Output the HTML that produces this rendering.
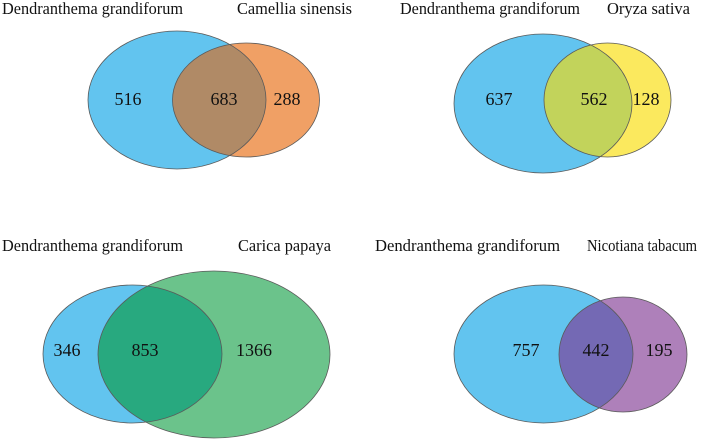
<!DOCTYPE html>
<html><head><meta charset="utf-8"><style>
html,body{margin:0;padding:0;background:#fff}
svg text{font-family:"Liberation Serif",serif;font-size:17px;fill:#111}
svg text.num{font-size:18px}
</style></head><body>
<svg id="chart" width="709" height="439" viewBox="0 0 709 439" xmlns="http://www.w3.org/2000/svg"></svg>
<script>
const speciesA = ["Dendranthema grandiforum","Dendranthema grandiforum","Dendranthema grandiforum","Dendranthema grandiforum"];
const speciesB = ["Camellia sinensis","Oryza sativa","Carica papaya","Nicotiana tabacum"];
const onlyA = [516, 637, 346, 757];
const shared = [683, 562, 853, 442];
const onlyB = [288, 128, 1366, 195];
const colorB = ["#f0a065","#fbe95e","#6bc38b","#ae80ba"];
const colorMix = ["#b08a66","#c2d35b","#28a97f","#7469b4"];
// layout (geometry, not data)
const panels = [
 {a:[177,100,89,69], b:[246,100,73.5,57], la:[2,14,181], lb:[237,14,115], t:[[128,105],[224,105],[287,105]]},
 {a:[543,103.5,89,69.5], b:[607.5,100,63.5,57], la:[400,14,180], lb:[607,14,83], t:[[499,105],[594,105],[646,105]]},
 {a:[132.5,354,89.5,69], b:[214,354.5,116,83.5], la:[2,251,181], lb:[238,251,93], t:[[67,356],[145,356],[254,356]]},
 {a:[543.5,354,89.5,69], b:[623,354.5,64,57.5], la:[375,251,185], lb:[587,251,110], t:[[526,356],[596,356],[659,356]]}
];
const NS="http://www.w3.org/2000/svg", svg=document.getElementById('chart');
function mk(tag,attrs,parent){const e=document.createElementNS(NS,tag);for(const k in attrs)e.setAttribute(k,attrs[k]);(parent||svg).appendChild(e);return e;}
const defs=mk('defs',{});
panels.forEach((p,i)=>{
  const g=mk('g',{});
  
  
  const cp=mk('clipPath',{id:'clip'+i},defs);
  mk('ellipse',{cx:p.a[0],cy:p.a[1],rx:p.a[2],ry:p.a[3]},cp);
  const ea=mk('ellipse',{cx:p.a[0],cy:p.a[1],rx:p.a[2],ry:p.a[3],fill:'#62c4ef'},g);
  
  
  const eb=mk('ellipse',{cx:p.b[0],cy:p.b[1],rx:p.b[2],ry:p.b[3],fill:colorB[i]},g);
  
  
  const ei=mk('ellipse',{cx:p.b[0],cy:p.b[1],rx:p.b[2],ry:p.b[3],fill:colorMix[i],'clip-path':'url(#clip'+i+')'},g);
  
  
  mk('ellipse',{cx:p.a[0],cy:p.a[1],rx:p.a[2],ry:p.a[3],fill:'none',stroke:'#5a5a5a','stroke-width':0.8},g);
  mk('ellipse',{cx:p.b[0],cy:p.b[1],rx:p.b[2],ry:p.b[3],fill:'none',stroke:'#5a5a5a','stroke-width':0.8},g);
  const ta=mk('text',{x:p.la[0],y:p.la[1],textLength:p.la[2],lengthAdjust:'spacingAndGlyphs'},g);ta.textContent=speciesA[i];
  
  
  const tb=mk('text',{x:p.lb[0],y:p.lb[1],textLength:p.lb[2],lengthAdjust:'spacingAndGlyphs'},g);tb.textContent=speciesB[i];
  
  
  const vals=[onlyA[i],shared[i],onlyB[i]], names=['only-a-count','shared-count','only-b-count'];
  vals.forEach((v,j)=>{
    const t=mk('text',{x:p.t[j][0],y:p.t[j][1],'text-anchor':'middle','class':'num'},g);t.textContent=v;
    
    
  });
});
</script>
</body></html>
